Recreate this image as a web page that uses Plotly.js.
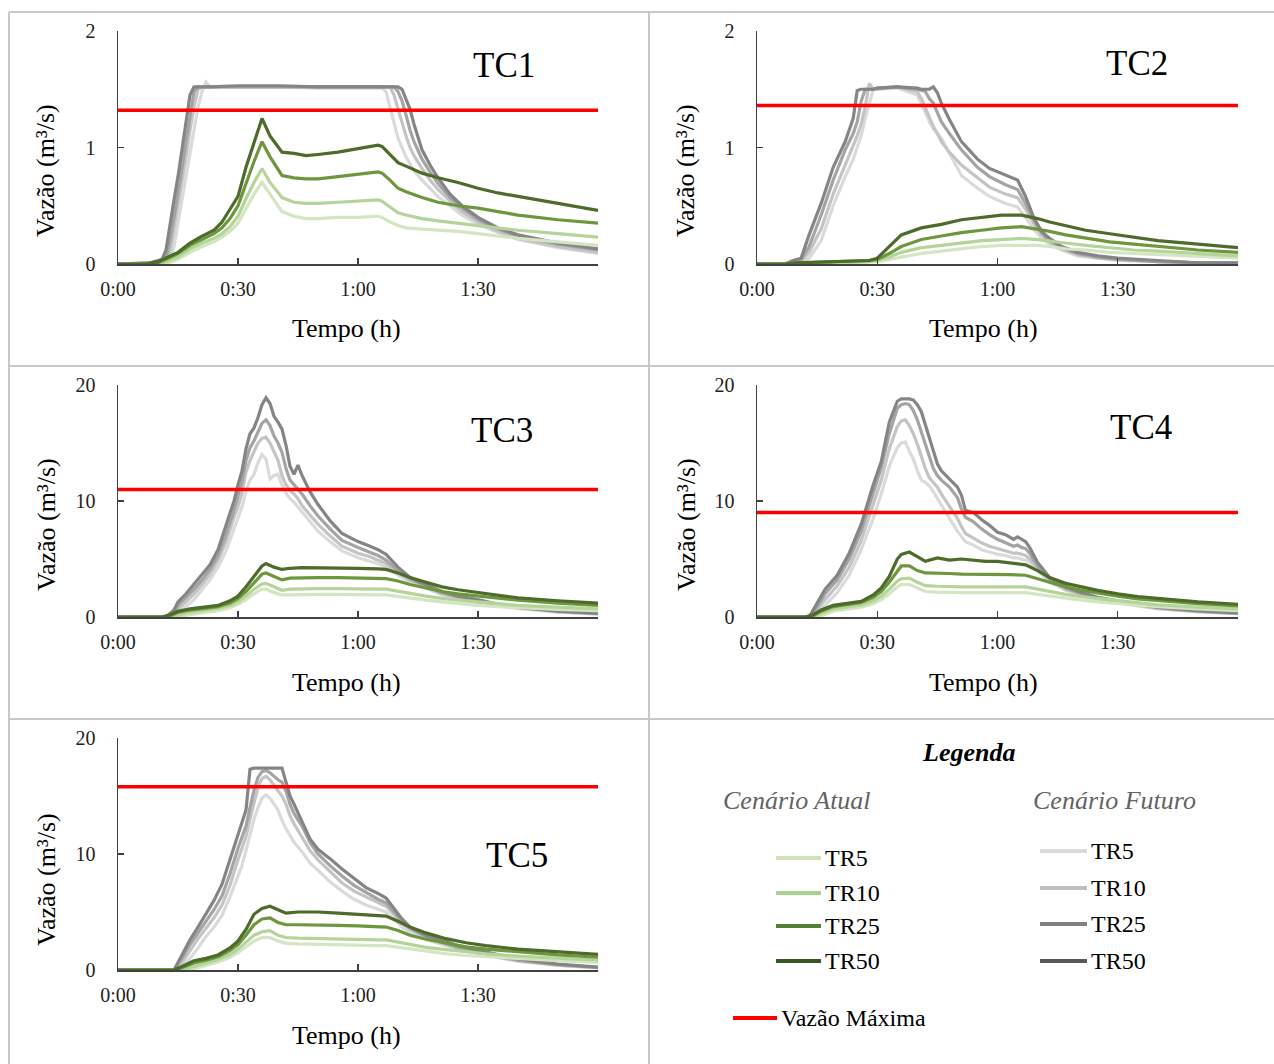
<!DOCTYPE html>
<html>
<head>
<meta charset="utf-8">
<script src="https://cdn.plot.ly/plotly-3.0.1.min.js"></script>
<style>html,body{margin:0;padding:0;background:#fff;}#chart{width:1274px;height:1064px;}</style>
</head>
<body>
<div id="chart"></div>
<script>
// ---------------- DATA ----------------
const panelNames = ['TC1', 'TC2', 'TC3', 'TC4', 'TC5'];
const vazaoMaxima = [1.32, 1.36, 11.0, 9.0, 15.8];
const tickVals = [0, 30, 60, 90];
const tickText = ['0:00', '0:30', '1:00', '1:30'];
const seriesNames = ['TR5', 'TR10', 'TR25', 'TR50'];

// TC1
const tc1_tAtual = [0,7,10,12,15,18,21,24,26,28,30,32,34,36,38,41,44,47,50,55,60,65,66,68,70,72,76,80,85,90,95,100,110,120];
const tc1_atual_TR5  = [0,0,0,0,0.04,0.1,0.15,0.19,0.23,0.28,0.35,0.48,0.6,0.7,0.6,0.45,0.41,0.39,0.39,0.4,0.4,0.41,0.4,0.36,0.33,0.31,0.3,0.29,0.28,0.26,0.24,0.22,0.19,0.16];
const tc1_atual_TR10 = [0,0,0,0.02,0.06,0.13,0.18,0.22,0.26,0.32,0.41,0.56,0.7,0.82,0.7,0.57,0.53,0.52,0.52,0.53,0.54,0.55,0.54,0.49,0.44,0.42,0.39,0.37,0.35,0.33,0.31,0.29,0.26,0.23];
const tc1_atual_TR25 = [0,0,0.01,0.04,0.09,0.16,0.21,0.26,0.31,0.39,0.5,0.7,0.88,1.05,0.92,0.76,0.74,0.73,0.73,0.75,0.77,0.79,0.78,0.72,0.65,0.62,0.57,0.53,0.5,0.48,0.45,0.42,0.38,0.35];
const tc1_atual_TR50 = [0,0,0.02,0.05,0.1,0.18,0.24,0.29,0.36,0.47,0.58,0.83,1.05,1.25,1.1,0.96,0.95,0.93,0.94,0.96,0.99,1.02,1.01,0.94,0.87,0.84,0.78,0.74,0.7,0.65,0.61,0.58,0.52,0.46];
const tc1_tFuturo = [0,8,10,11,12,13,14,15,16,17,18,19,20,21,22,23,30,40,50,60,66,67,68,69,70,71,72,73,74,76,78,80,83,86,90,95,100,110,120];
const tc1_futuro_TR5  = [0,0,0,0,0.01,0.04,0.15,0.35,0.55,0.75,0.98,1.18,1.35,1.48,1.56,1.52,1.52,1.52,1.51,1.51,1.51,1.48,1.35,1.2,1.08,1.0,0.92,0.86,0.8,0.72,0.65,0.58,0.5,0.42,0.34,0.27,0.21,0.14,0.09];
const tc1_futuro_TR10 = [0,0,0.01,0.01,0.02,0.1,0.3,0.5,0.7,0.92,1.15,1.35,1.5,1.52,1.52,1.52,1.52,1.52,1.52,1.52,1.52,1.52,1.52,1.45,1.33,1.2,1.1,1.0,0.93,0.82,0.72,0.64,0.54,0.45,0.36,0.28,0.22,0.15,0.1];
const tc1_futuro_TR25 = [0,0.01,0.02,0.02,0.05,0.2,0.4,0.6,0.82,1.05,1.28,1.48,1.52,1.52,1.52,1.52,1.52,1.52,1.52,1.52,1.52,1.52,1.52,1.52,1.48,1.4,1.28,1.15,1.05,0.9,0.79,0.69,0.57,0.48,0.38,0.3,0.24,0.17,0.12];
const tc1_futuro_TR50 = [0,0.01,0.03,0.04,0.12,0.35,0.55,0.75,0.97,1.2,1.45,1.52,1.52,1.52,1.52,1.52,1.53,1.53,1.52,1.52,1.52,1.52,1.52,1.52,1.52,1.5,1.42,1.33,1.2,0.98,0.85,0.74,0.6,0.5,0.4,0.31,0.25,0.18,0.13];

// TC2
const tc2_tAtual = [0,7,10,20,28,30,33,36,41,46,51,56,61,66,70,73,77,82,88,94,100,110,120];
const tc2_atual_TR5  = [0,0,0,0.01,0.02,0.02,0.04,0.06,0.09,0.11,0.13,0.15,0.16,0.16,0.16,0.15,0.13,0.12,0.1,0.09,0.08,0.06,0.05];
const tc2_atual_TR10 = [0,0,0,0.01,0.02,0.03,0.06,0.1,0.14,0.16,0.18,0.2,0.21,0.22,0.21,0.2,0.18,0.16,0.14,0.12,0.11,0.09,0.07];
const tc2_atual_TR25 = [0,0,0.01,0.02,0.03,0.04,0.09,0.15,0.21,0.24,0.27,0.29,0.31,0.32,0.3,0.28,0.25,0.22,0.19,0.17,0.15,0.12,0.1];
const tc2_atual_TR50 = [0,0,0.01,0.02,0.03,0.05,0.15,0.25,0.31,0.34,0.38,0.4,0.42,0.42,0.39,0.36,0.33,0.29,0.26,0.23,0.2,0.17,0.14];
const tc2_tFuturo = [0,7,9,11,13,16,19,22,24,25,26,27,28,29,30,35,40,41,42,43,44,45,46,48,51,55,58,62,65,67,69,71,73,76,80,85,90,100,110,120];
const tc2_futuro_TR5  = [0,0,0,0.01,0.05,0.2,0.5,0.75,0.9,1.0,1.1,1.25,1.38,1.5,1.5,1.51,1.45,1.38,1.3,1.22,1.16,1.12,1.08,0.95,0.76,0.65,0.58,0.52,0.49,0.4,0.3,0.22,0.17,0.12,0.07,0.05,0.03,0.02,0.01,0.01];
const tc2_futuro_TR10 = [0,0,0.01,0.02,0.1,0.3,0.6,0.85,1.0,1.1,1.2,1.35,1.55,1.5,1.5,1.52,1.48,1.42,1.34,1.26,1.18,1.12,1.05,0.96,0.85,0.74,0.66,0.6,0.57,0.47,0.35,0.25,0.19,0.13,0.08,0.05,0.04,0.02,0.01,0.01];
const tc2_futuro_TR25 = [0,0,0.02,0.04,0.15,0.42,0.72,0.98,1.12,1.22,1.4,1.5,1.5,1.5,1.51,1.52,1.5,1.49,1.48,1.42,1.38,1.3,1.22,1.12,0.98,0.83,0.75,0.68,0.64,0.52,0.38,0.27,0.2,0.14,0.09,0.06,0.04,0.02,0.01,0.01];
const tc2_futuro_TR50 = [0,0,0.03,0.05,0.25,0.52,0.83,1.05,1.25,1.49,1.5,1.5,1.5,1.5,1.51,1.52,1.51,1.5,1.5,1.5,1.52,1.47,1.38,1.24,1.05,0.9,0.82,0.76,0.72,0.58,0.4,0.28,0.22,0.15,0.1,0.07,0.05,0.03,0.01,0.01];

// TC3
const tc3_tAtual = [0,11,13,15,18,21,25,28,30,32,34,36,37,39,41,43,46,50,55,60,65,67,70,73,77,81,85,90,95,100,110,120];
const tc3_atual_TR5  = [0,0,0,0,0.2,0.35,0.55,0.8,1.1,1.5,2.0,2.4,2.4,2.1,1.9,1.9,1.95,1.95,1.95,1.9,1.9,1.9,1.75,1.6,1.45,1.3,1.15,1.0,0.9,0.8,0.65,0.55];
const tc3_atual_TR10 = [0,0,0,0.15,0.4,0.55,0.75,1.0,1.3,1.8,2.4,2.85,2.9,2.6,2.3,2.4,2.45,2.45,2.45,2.4,2.4,2.4,2.2,2.0,1.8,1.6,1.45,1.3,1.15,1.0,0.85,0.7];
const tc3_atual_TR25 = [0,0,0.1,0.4,0.6,0.75,0.9,1.2,1.6,2.2,3.0,3.7,3.8,3.5,3.2,3.35,3.4,3.4,3.4,3.35,3.3,3.3,3.1,2.8,2.5,2.2,2.0,1.8,1.6,1.45,1.2,1.0];
const tc3_atual_TR50 = [0,0,0.2,0.5,0.7,0.85,1.0,1.4,1.8,2.6,3.5,4.4,4.6,4.3,4.1,4.2,4.25,4.25,4.25,4.2,4.15,4.1,3.8,3.4,3.0,2.6,2.35,2.1,1.85,1.65,1.4,1.2];
const tc3_tFuturo = [0,12,14,15,17,19,21,23,25,27,29,30,31,32,33,34,35,36,37,38,39,40,41,42,43,44,45,46,48,50,53,56,60,63,65,67,70,73,77,81,85,90,95,100,110,120];
const tc3_futuro_TR5  = [0,0,0,0.4,0.9,1.5,2.3,3.2,4.3,5.7,7.6,8.5,9.5,10.8,11.8,12.3,13.3,14.0,13.6,11.9,12.2,12.3,11.4,10.7,10.2,9.9,9.5,9.0,8.2,7.4,6.5,5.7,5.1,4.8,4.6,4.3,3.6,3.0,2.5,1.9,1.6,1.2,0.95,0.75,0.42,0.25];
const tc3_futuro_TR10 = [0,0,0.1,0.7,1.3,2.0,2.8,3.7,4.9,6.5,8.6,9.5,10.7,12.5,13.5,14.2,15.0,15.4,15.5,15.0,14.3,13.5,12.2,11.4,10.9,10.6,10.2,9.6,8.8,8.0,7.0,6.1,5.5,5.2,4.9,4.6,3.8,3.2,2.6,2.0,1.7,1.3,1.0,0.8,0.45,0.28];
const tc3_futuro_TR25 = [0,0,0.3,1.0,1.7,2.4,3.2,4.1,5.3,7.1,9.2,10.5,11.7,13.5,14.6,15.2,16.0,16.7,17.0,16.5,15.6,15.0,14.2,12.8,11.8,11.4,11.0,10.6,9.6,8.7,7.6,6.6,6.0,5.6,5.3,4.9,4.0,3.3,2.7,2.1,1.75,1.4,1.05,0.8,0.5,0.3];
const tc3_futuro_TR50 = [0,0,0.6,1.3,2.0,2.8,3.6,4.5,5.8,7.8,10.0,11.4,12.6,14.5,15.8,16.3,17.2,18.3,18.9,18.4,17.3,16.8,16.2,14.8,13.0,12.3,13.1,12.2,10.8,9.7,8.3,7.2,6.5,6.1,5.8,5.4,4.3,3.4,2.8,2.2,1.8,1.5,1.1,0.85,0.5,0.3];

// TC4
const tc4_tAtual = [0,12,14,16,19,22,26,29,31,33,35,36,38,40,42,45,48,51,54,57,60,63,67,70,73,77,81,85,90,95,100,110,120];
const tc4_atual_TR5  = [0,0,0,0.1,0.5,0.65,0.85,1.15,1.5,2.0,2.6,2.8,2.8,2.5,2.2,2.15,2.1,2.1,2.1,2.1,2.1,2.1,2.1,1.95,1.8,1.6,1.45,1.3,1.15,1.0,0.9,0.7,0.55];
const tc4_atual_TR10 = [0,0,0,0.3,0.7,0.85,1.05,1.4,1.8,2.4,3.1,3.3,3.35,3.0,2.7,2.65,2.6,2.6,2.6,2.6,2.6,2.6,2.6,2.4,2.2,1.95,1.75,1.6,1.4,1.2,1.05,0.85,0.7];
const tc4_atual_TR25 = [0,0,0.1,0.5,0.9,1.05,1.25,1.7,2.2,3.0,4.0,4.4,4.4,4.0,3.8,3.8,3.75,3.7,3.7,3.7,3.65,3.65,3.6,3.3,3.0,2.6,2.3,2.05,1.8,1.55,1.4,1.15,0.95];
const tc4_atual_TR50 = [0,0,0.2,0.6,1.0,1.15,1.35,1.9,2.5,3.5,5.0,5.4,5.6,5.2,4.8,5.1,4.9,5.0,4.9,4.8,4.8,4.7,4.5,4.0,3.4,2.9,2.6,2.3,2.0,1.75,1.6,1.3,1.1];
const tc4_tFuturo = [0,13,15,17,20,23,26,29,31,33,35,36,37,38,39,40,41,42,43,44,45,46,48,50,51,52,54,56,58,60,62,64,65,66,67,68,70,73,77,81,85,90,95,100,110,120];
const tc4_futuro_TR5  = [0,0,0.3,1.0,2.1,3.6,5.8,8.5,10.6,13.0,14.6,15.0,15.1,14.3,13.6,12.6,11.8,11.6,11.3,10.8,10.2,9.6,8.5,7.4,6.9,6.5,6.2,5.8,5.6,5.4,5.3,5.1,5.1,5.0,4.9,4.7,4.0,3.0,2.3,1.85,1.5,1.2,0.95,0.7,0.45,0.28];
const tc4_futuro_TR10 = [0,0,0.6,1.5,2.7,4.3,6.6,9.6,11.8,14.5,16.4,16.9,17.0,16.5,15.8,14.9,13.8,12.8,12.0,11.6,11.2,10.6,9.6,8.5,7.8,7.2,6.8,6.4,6.1,5.9,5.7,5.5,5.5,5.4,5.3,5.0,4.2,3.2,2.4,1.95,1.6,1.3,1.0,0.75,0.48,0.3];
const tc4_futuro_TR25 = [0,0,0.9,2.0,3.2,5.0,7.4,10.6,12.9,15.8,18.0,18.3,18.4,18.3,17.8,17.0,16.0,14.8,13.8,12.8,12.2,11.8,11.2,10.3,9.3,8.6,8.2,7.6,7.1,6.7,6.4,6.1,6.2,6.0,5.9,5.5,4.4,3.3,2.5,2.0,1.65,1.35,1.05,0.8,0.5,0.3];
const tc4_futuro_TR50 = [0,0,1.2,2.4,3.6,5.5,8.0,11.4,13.4,16.8,18.6,18.8,18.8,18.8,18.7,18.3,17.7,16.6,15.5,14.2,13.2,12.6,11.9,11.2,10.5,9.2,9.0,8.4,7.9,7.3,7.1,6.7,6.9,6.7,6.5,6.0,4.7,3.4,2.6,2.1,1.7,1.4,1.1,0.85,0.55,0.35];

// TC5
const tc5_tAtual = [0,14,16,19,22,25,28,30,32,34,36,38,40,42,45,50,55,60,65,67,70,73,77,82,87,92,100,110,120];
const tc5_atual_TR5  = [0,0,0,0.1,0.4,0.7,1.1,1.5,2.0,2.5,2.8,2.8,2.5,2.3,2.25,2.2,2.2,2.15,2.1,2.1,1.95,1.8,1.6,1.4,1.25,1.15,0.95,0.8,0.65];
const tc5_atual_TR10 = [0,0,0,0.3,0.6,0.9,1.35,1.8,2.4,3.0,3.3,3.4,3.0,2.8,2.75,2.7,2.7,2.65,2.6,2.6,2.4,2.2,1.95,1.75,1.55,1.4,1.2,1.0,0.85];
const tc5_atual_TR25 = [0,0,0.2,0.6,0.85,1.15,1.7,2.2,3.0,3.9,4.4,4.5,4.1,3.9,3.9,3.9,3.85,3.8,3.75,3.7,3.4,3.0,2.65,2.3,2.0,1.8,1.55,1.3,1.1];
const tc5_atual_TR50 = [0,0,0.3,0.8,1.0,1.3,1.9,2.5,3.5,4.8,5.3,5.5,5.2,4.9,5.0,5.0,4.9,4.8,4.7,4.65,4.2,3.7,3.2,2.7,2.35,2.1,1.8,1.55,1.35];
const tc5_tFuturo = [0,14,16,18,20,22,24,26,28,30,31,32,33,34,35,36,37,38,40,41,42,43,44,46,48,50,53,56,59,62,65,67,69,71,73,77,81,85,90,95,100,110,120];
const tc5_futuro_TR5  = [0,0,0.3,1.0,1.9,2.9,3.7,4.7,6.3,8.0,9.0,10.3,11.8,13.0,14.0,14.8,15.1,14.8,13.8,12.9,12.2,11.6,11.0,10.2,9.2,8.6,7.6,6.8,6.1,5.6,5.2,5.0,4.4,3.7,3.2,2.6,2.2,1.8,1.4,1.05,0.75,0.4,0.18];
const tc5_futuro_TR10 = [0,0,0.6,1.7,2.7,3.6,4.5,5.6,7.3,9.5,10.5,11.5,13.0,14.5,15.8,16.5,16.7,16.4,15.5,15.0,14.3,13.3,12.6,11.4,10.3,9.5,8.5,7.5,6.8,6.3,5.8,5.5,4.8,4.0,3.5,2.8,2.3,1.9,1.5,1.1,0.8,0.42,0.2];
const tc5_futuro_TR25 = [0,0,1.0,2.2,3.2,4.2,5.2,6.4,8.3,10.5,11.4,12.4,14.0,15.5,16.6,17.1,17.2,17.0,16.4,16.2,15.4,14.3,13.5,12.4,11.0,10.0,9.0,8.1,7.3,6.7,6.1,5.8,5.0,4.2,3.6,2.9,2.4,1.95,1.55,1.15,0.85,0.45,0.22];
const tc5_futuro_TR50 = [0,0,1.3,2.6,3.7,4.8,6.0,7.4,9.5,11.8,12.7,13.8,17.3,17.4,17.4,17.4,17.4,17.4,17.4,17.4,16.2,15.0,14.3,12.8,11.3,10.4,9.6,8.7,7.9,7.1,6.6,6.2,5.3,4.4,3.7,3.0,2.6,2.1,1.7,1.3,0.95,0.5,0.25];

// ---------------- STYLE / LAYOUT ----------------
const W = 1274, H = 1064;
const px = x => x / W;
const py = y => 1 - y / H;
const FONT = 'Liberation Serif, Times New Roman, serif';

const atualColors  = ['#d3e5c1', '#b5d49a', '#6e973d', '#4d6b2a'];
const futuroColors = ['#dadada', '#c4c4c4', '#a4a4a4', '#858585'];
const legAtualColors  = ['#cfe2ba', '#a9d18e', '#548235', '#385723'];
const legFuturoColors = ['#d9d9d9', '#bfbfbf', '#808080', '#595959'];

const panelData = [
  {tA: tc1_tAtual, A: [tc1_atual_TR5, tc1_atual_TR10, tc1_atual_TR25, tc1_atual_TR50], tF: tc1_tFuturo, F: [tc1_futuro_TR5, tc1_futuro_TR10, tc1_futuro_TR25, tc1_futuro_TR50]},
  {tA: tc2_tAtual, A: [tc2_atual_TR5, tc2_atual_TR10, tc2_atual_TR25, tc2_atual_TR50], tF: tc2_tFuturo, F: [tc2_futuro_TR5, tc2_futuro_TR10, tc2_futuro_TR25, tc2_futuro_TR50]},
  {tA: tc3_tAtual, A: [tc3_atual_TR5, tc3_atual_TR10, tc3_atual_TR25, tc3_atual_TR50], tF: tc3_tFuturo, F: [tc3_futuro_TR5, tc3_futuro_TR10, tc3_futuro_TR25, tc3_futuro_TR50]},
  {tA: tc4_tAtual, A: [tc4_atual_TR5, tc4_atual_TR10, tc4_atual_TR25, tc4_atual_TR50], tF: tc4_tFuturo, F: [tc4_futuro_TR5, tc4_futuro_TR10, tc4_futuro_TR25, tc4_futuro_TR50]},
  {tA: tc5_tAtual, A: [tc5_atual_TR5, tc5_atual_TR10, tc5_atual_TR25, tc5_atual_TR50], tF: tc5_tFuturo, F: [tc5_futuro_TR5, tc5_futuro_TR10, tc5_futuro_TR25, tc5_futuro_TR50]}
];

// pixel boxes of the plot areas [x0, x1, yTop, yBottom]
const boxes = [
  [118, 598, 31, 264], [757, 1238, 31, 264],
  [118, 598, 385, 617], [757, 1238, 385, 617],
  [118, 598, 738, 970]
];
const yMax = [2, 2, 20, 20, 20];
const yTicks = [[0,1,2],[0,1,2],[0,10,20],[0,10,20],[0,10,20]];
const tcLabelPos = [[504,66],[1137,63],[502,430],[1141,427],[517,855]];

const traces = [];
const layout = {
  width: W, height: H,
  margin: {l: 0, r: 0, t: 0, b: 0},
  paper_bgcolor: '#ffffff', plot_bgcolor: 'rgba(0,0,0,0)',
  showlegend: false,
  font: {family: FONT, color: '#000'},
  annotations: [], shapes: []
};

panelData.forEach((p, i) => {
  const n = i === 0 ? '' : String(i + 1);
  const xa = 'x' + n, ya = 'y' + n;
  p.F.forEach((vals, k) => {
    traces.push({type: 'scatter', mode: 'lines', x: p.tF, y: vals, xaxis: xa, yaxis: ya,
      name: 'Cenário Futuro ' + seriesNames[k], line: {color: futuroColors[k], width: 3.2}, hoverinfo: 'skip'});
  });
  p.A.forEach((vals, k) => {
    traces.push({type: 'scatter', mode: 'lines', x: p.tA, y: vals, xaxis: xa, yaxis: ya,
      name: 'Cenário Atual ' + seriesNames[k], line: {color: atualColors[k], width: 3.2}, hoverinfo: 'skip'});
  });
  traces.push({type: 'scatter', mode: 'lines', x: [0, 120], y: [vazaoMaxima[i], vazaoMaxima[i]], xaxis: xa, yaxis: ya,
    name: 'Vazão Máxima', line: {color: '#ff0000', width: 3.5}, hoverinfo: 'skip'});

  const b = boxes[i];
  layout['xaxis' + n] = {
    domain: [px(b[0]), px(b[1])], anchor: ya, range: [0, 120],
    tickmode: 'array', tickvals: tickVals, ticktext: tickText,
    ticks: 'inside', ticklen: 6, tickwidth: 1.3, tickcolor: '#404040',
    showline: true, linecolor: '#404040', linewidth: 1.5,
    showgrid: false, zeroline: false, fixedrange: true,
    tickfont: {family: FONT, size: 20, color: '#222'}, ticklabelstandoff: 6
  };
  layout['yaxis' + n] = {
    domain: [py(b[3]), py(b[2])], anchor: xa, range: [0, yMax[i]],
    tickmode: 'array', tickvals: yTicks[i],
    ticks: 'inside', ticklen: 6, tickwidth: 1.3, tickcolor: '#404040',
    showline: true, linecolor: '#404040', linewidth: 1.5,
    showgrid: false, zeroline: false, fixedrange: true,
    tickfont: {family: FONT, size: 20, color: '#222'}, ticklabelstandoff: 17
  };

  const left = (i % 2 === 0);
  const rowCenters = [[171, 328], [525, 682], [880, 1035]];
  const r = Math.floor(i / 2);
  layout.annotations.push({
    xref: 'paper', yref: 'paper', x: px(left ? 46 : 686), y: py(rowCenters[r][0]),
    text: 'Vazão (m³/s)', textangle: -90, showarrow: false,
    font: {family: FONT, size: 26, color: '#000'}, xanchor: 'center', yanchor: 'middle'
  });
  layout.annotations.push({
    xref: 'paper', yref: 'paper', x: px(left ? 346 : 984), y: py(rowCenters[r][1]),
    text: 'Tempo (h)', showarrow: false,
    font: {family: FONT, size: 26, color: '#000'}, xanchor: 'center', yanchor: 'middle'
  });
  layout.annotations.push({
    xref: 'paper', yref: 'paper', x: px(tcLabelPos[i][0]), y: py(tcLabelPos[i][1]),
    text: panelNames[i], showarrow: false,
    font: {family: FONT, size: 35, color: '#000'}, xanchor: 'center', yanchor: 'middle'
  });
});

// panel borders
const borderColor = '#c8c8c8';
[[9, 12, 9, H], [649, 12, 649, H], [9, 12, W, 12], [9, 366, W, 366], [9, 719, W, 719]].forEach(s => {
  layout.shapes.push({type: 'line', xref: 'paper', yref: 'paper',
    x0: px(s[0]), y0: py(s[1]), x1: px(s[2]), y1: py(s[3]), line: {color: borderColor, width: 2}});
});

// legend panel
layout.annotations.push({xref: 'paper', yref: 'paper', x: px(968), y: py(752), text: '<b><i>Legenda</i></b>',
  showarrow: false, font: {family: FONT, size: 26, color: '#000'}, xanchor: 'center', yanchor: 'middle'});
layout.annotations.push({xref: 'paper', yref: 'paper', x: px(797), y: py(800), text: '<i>Cenário Atual</i>',
  showarrow: false, font: {family: FONT, size: 26, color: '#636363'}, xanchor: 'center', yanchor: 'middle'});
layout.annotations.push({xref: 'paper', yref: 'paper', x: px(1114), y: py(800), text: '<i>Cenário Futuro</i>',
  showarrow: false, font: {family: FONT, size: 26, color: '#636363'}, xanchor: 'center', yanchor: 'middle'});

const legAtualY = [858, 893, 926, 961];
const legFuturoY = [851, 888, 924, 961];
seriesNames.forEach((nm, k) => {
  layout.shapes.push({type: 'line', xref: 'paper', yref: 'paper', x0: px(776), x1: px(821),
    y0: py(legAtualY[k]), y1: py(legAtualY[k]), line: {color: legAtualColors[k], width: 4}});
  layout.annotations.push({xref: 'paper', yref: 'paper', x: px(823), y: py(legAtualY[k]), text: nm,
    showarrow: false, font: {family: FONT, size: 24, color: '#000'}, xanchor: 'left', yanchor: 'middle'});
  layout.shapes.push({type: 'line', xref: 'paper', yref: 'paper', x0: px(1040), x1: px(1087),
    y0: py(legFuturoY[k]), y1: py(legFuturoY[k]), line: {color: legFuturoColors[k], width: 4}});
  layout.annotations.push({xref: 'paper', yref: 'paper', x: px(1089), y: py(legFuturoY[k]), text: nm,
    showarrow: false, font: {family: FONT, size: 24, color: '#000'}, xanchor: 'left', yanchor: 'middle'});
});
layout.shapes.push({type: 'line', xref: 'paper', yref: 'paper', x0: px(733), x1: px(777),
  y0: py(1018), y1: py(1018), line: {color: '#ff0000', width: 4}});
layout.annotations.push({xref: 'paper', yref: 'paper', x: px(779), y: py(1018), text: 'Vazão Máxima',
  showarrow: false, font: {family: FONT, size: 24, color: '#000'}, xanchor: 'left', yanchor: 'middle'});

Plotly.newPlot('chart', traces, layout, {displayModeBar: false, staticPlot: true});
</script>
</body>
</html>
